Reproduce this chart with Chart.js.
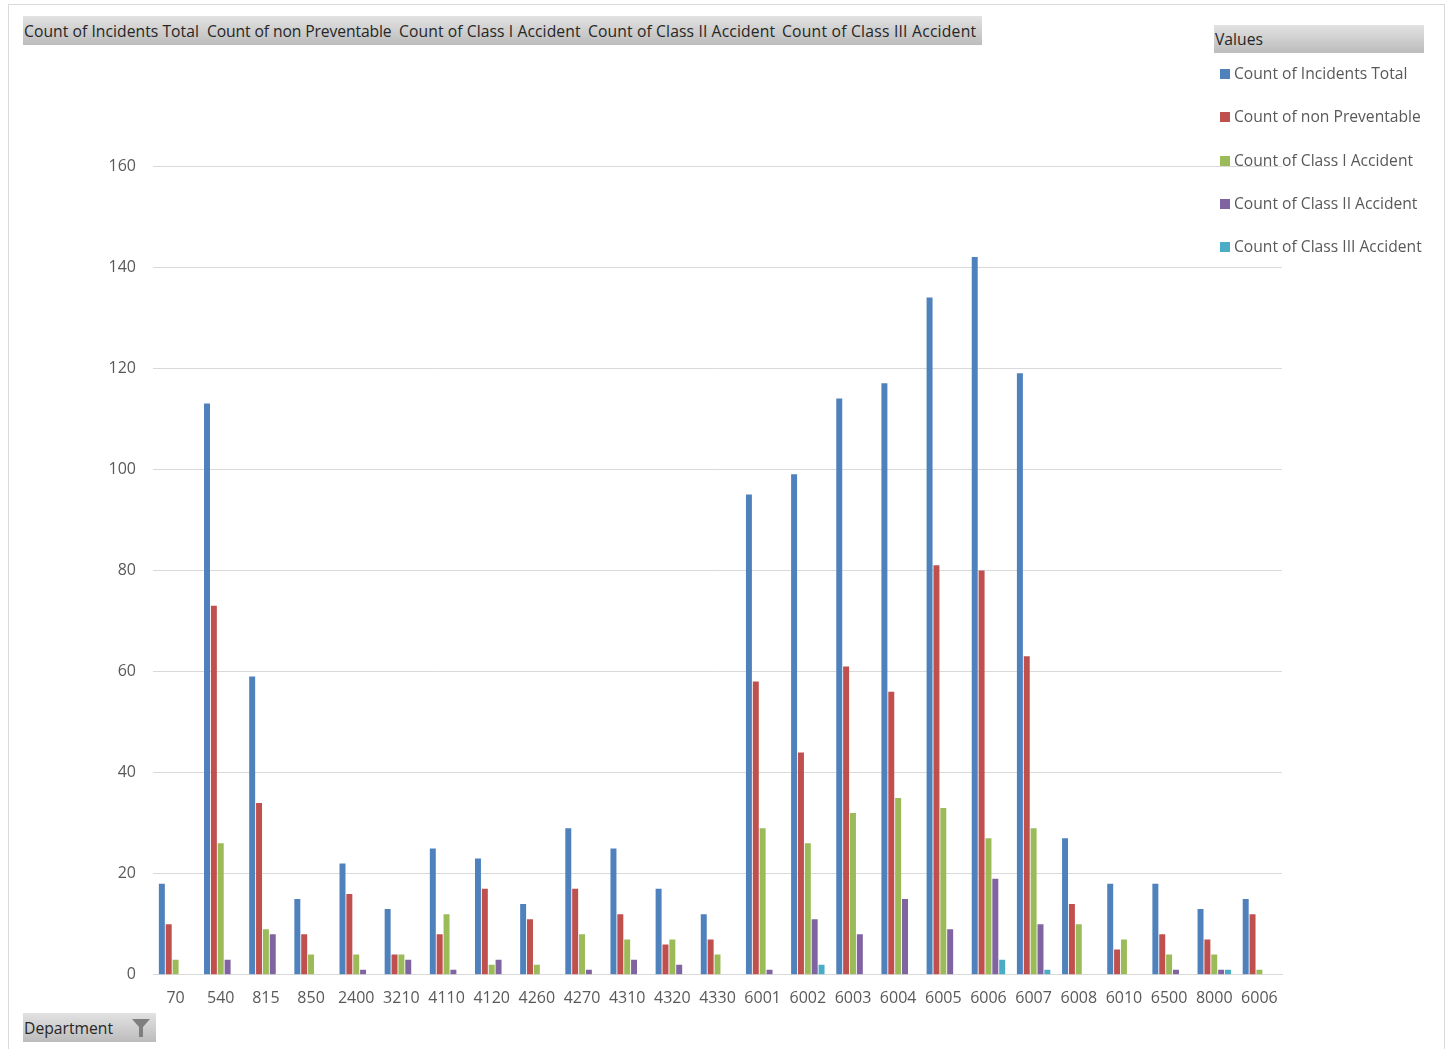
<!DOCTYPE html>
<html>
<head>
<meta charset="utf-8">
<title>Incidents by Department</title>
<script src="https://cdn.jsdelivr.net/npm/chart.js@4"></script>
<style>
body { margin: 0; background: #fff; font-family: "Open Sans", sans-serif; }
#wrap { position: relative; width: 1453px; height: 1049px; overflow: hidden; }
#priceChart { position: absolute; left: 0; top: 0; }
#frame { position: absolute; left: 8px; top: 4px; width: 1435px; height: 1060px; border: 1px solid #d9d9d9; }
.btn { position: absolute; background: linear-gradient(#e2e2e2, #bcbcbc); color: #262626; font-size: 15.7px; white-space: nowrap; }
.btn span { position: absolute; top: 50%; transform: translateY(-50%); }
#legend { position: absolute; left: 1220px; top: 52px; }
.item { position: relative; height: 43.25px; width: 210px; color: #595959; font-size: 15.65px; }
.item i { position: absolute; left: 0; top: 17px; width: 10px; height: 10px; }
.item b { position: absolute; left: 14px; top: 10px; font-weight: normal; white-space: nowrap; }
</style>
</head>
<body>
<div id="wrap">
  <div id="frame"></div>
  <canvas id="priceChart" width="1453" height="1049"></canvas>
  <div class="btn" id="fieldBar" style="left:23px;top:16px;width:959px;height:29px"></div>
  <div class="btn" style="left:1214px;top:25px;width:210px;height:28px"><span style="left:1px">Values</span></div>
  <div id="legend"></div>
  <div class="btn" style="left:23px;top:1013px;width:133px;height:29px">
    <span style="left:1px">Department</span>
    <svg style="position:absolute;left:108px;top:6px" width="20" height="18" viewBox="0 0 20 18"><path d="M1 0H19L12 8V18H8V8Z" fill="#7f7f7f"/></svg>
  </div>
</div>
<script>
const departments = ['70', '540', '815', '850', '2400', '3210', '4110', '4120', '4260', '4270', '4310', '4320', '4330',
    '6001', '6002', '6003', '6004', '6005', '6006', '6007', '6008', '6010', '6500', '8000', '6006'];

const incidentsTotal = [18, 113, 59, 15, 22, 13, 25, 23, 14, 29, 25, 17, 12, 95, 99, 114, 117, 134, 142, 119, 27, 18, 18, 13, 15];
const nonPreventable = [10, 73, 34, 8, 16, 4, 8, 17, 11, 17, 12, 6, 7, 58, 44, 61, 56, 81, 80, 63, 14, 5, 8, 7, 12];
const classOne = [3, 26, 9, 4, 4, 4, 12, 2, 2, 8, 7, 7, 4, 29, 26, 32, 35, 33, 27, 29, 10, 7, 4, 4, 1];
const classTwo = [0, 3, 8, 0, 1, 3, 1, 3, 0, 1, 3, 2, 0, 1, 11, 8, 15, 9, 19, 10, 0, 0, 1, 1, 0];
const classThree = [0, 0, 0, 0, 0, 0, 0, 0, 0, 0, 0, 0, 0, 0, 2, 0, 0, 0, 3, 1, 0, 0, 0, 1, 0];

const seriesNames = ['Count of Incidents Total', 'Count of non Preventable', 'Count of Class I Accident',
    'Count of Class II Accident', 'Count of Class III Accident'];
const seriesColors = ['#4f81bd', '#c0504d', '#9bbb59', '#8064a2', '#4bacc6'];
const seriesValues = [incidentsTotal, nonPreventable, classOne, classTwo, classThree];
const fieldOffsets = [1, 184, 376, 565, 759];
const fieldSpacing = [0.04, -0.12, 0.08, 0.12, 0.22];

// field buttons across the top
const bar = document.getElementById('fieldBar');
seriesNames.forEach((name, i) => {
    const s = document.createElement('span');
    s.style.left = fieldOffsets[i] + 'px';
    s.style.letterSpacing = fieldSpacing[i] + 'px';
    s.textContent = name;
    bar.appendChild(s);
});

// legend on the right
const legend = document.getElementById('legend');
seriesNames.forEach((name, i) => {
    const row = document.createElement('div');
    row.className = 'item';
    row.innerHTML = `<i style="background:${seriesColors[i]}"></i><b>${name}</b>`;
    legend.appendChild(row);
});

const ctx = document.getElementById('priceChart').getContext('2d');
new Chart(ctx, {
    type: 'bar',
    data: {
        labels: departments,
        datasets: seriesNames.map((name, i) => ({
            label: name,
            data: seriesValues[i],
            backgroundColor: seriesColors[i],
            categoryPercentage: 0.76,
            barPercentage: 0.87
        }))
    },
    options: {
        responsive: false,
        animation: false,
        layout: { padding: { left: 0, right: 171, top: 166, bottom: 27 } },
        plugins: {
            legend: { display: false },
            title: { display: false },
            tooltip: { enabled: false }
        },
        scales: {
            x: {
                grid: { display: false, drawTicks: false },
                border: { color: '#d9d9d9', width: 1 },
                ticks: { color: '#595959', font: { family: 'Open Sans', size: 16 }, padding: 14, maxRotation: 0, autoSkip: false }
            },
            y: {
                min: 0,
                max: 160,
                afterFit: scale => { scale.width = 153; },
                grid: { color: '#d9d9d9', drawTicks: false },
                border: { display: false },
                ticks: { stepSize: 20, color: '#595959', font: { family: 'Open Sans', size: 16 }, padding: 17 }
            }
        }
    }
});
</script>
</body>
</html>
